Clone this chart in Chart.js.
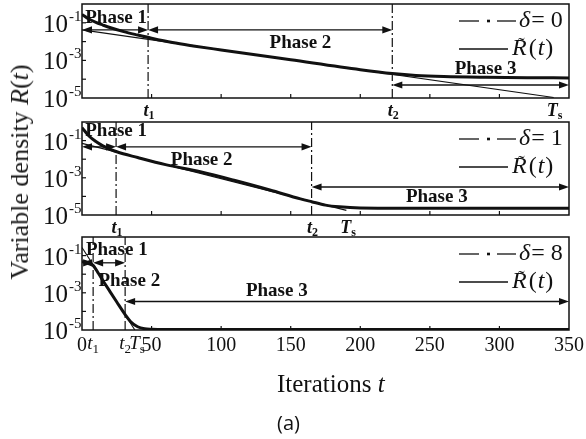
<!DOCTYPE html>
<html>
<head>
<meta charset="utf-8">
<script src="https://cdn.jsdelivr.net/npm/chart.js@4.4.0/dist/chart.umd.min.js"></script>
<style>
body{margin:0;background:#fff;width:586px;height:439px;position:relative;overflow:hidden}
canvas{position:absolute;left:0}
#ytitle{position:absolute;left:20px;top:172px;transform:translate(-50%,-50%) rotate(-90deg);font:26px "Liberation Serif",serif;white-space:nowrap;color:#1a1a1a}
</style>
</head>
<body>
<canvas id="p1" width="586" height="120" style="top:0"></canvas>
<canvas id="p2" width="586" height="120" style="top:118px"></canvas>
<canvas id="p3" width="586" height="206" style="top:233px"></canvas>
<div id="ytitle">Variable density <i>R</i>(<i>t</i>)</div>
<script>
// axis values
const xTicks = [0, 50, 100, 150, 200, 250, 300, 350]
const yTicks = [1e-5, 1e-3, 1e-1]
const yDecades = [1e-4, 1e-3, 1e-2, 1e-1]
const deltas = [0, 1, 8]

// delta = 0
const iterA = [0, 5, 10, 15, 20, 30, 40, 50, 65, 80, 100, 150, 200, 223, 240, 260, 290, 320, 350]
const curveA = [0.28, 0.158, 0.105, 0.076, 0.056, 0.034, 0.0224, 0.0151, 0.0089, 5.9e-3, 3.6e-3, 1.07e-3, 3.2e-4, 2.0e-4, 1.58e-4, 1.38e-4, 1.26e-4, 1.2e-4, 1.17e-4]
const boundIterA = [0, 339]
const boundA = [0.042, 1.07e-5]
const markA = [47.5, 223, 339] // t1, t2, Ts

// delta = 1
const iterB = [0, 5, 10, 15, 20, 25, 40, 60, 85, 110, 135, 157, 165, 175, 185, 200, 230, 350]
const curveB = [0.5, 0.178, 0.089, 0.052, 0.035, 0.025, 0.0123, 5.1e-3, 2.1e-3, 7.1e-4, 2.2e-4, 7.4e-5, 5.2e-5, 3.4e-5, 2.75e-5, 2.4e-5, 2.34e-5, 2.34e-5]
const boundIterB = [0, 190]
const boundB = [0.071, 1.78e-5]
const markB = [24.5, 165, 190.6]

// delta = 8
const iterC = [0, 4, 8, 12, 16, 20, 25, 31, 35, 40, 45, 50, 60, 350]
const curveC = [0.047, 0.042, 0.030, 0.0105, 3.5e-3, 1.2e-3, 3.2e-4, 6.8e-5, 2.8e-5, 1.5e-5, 1.17e-5, 1.1e-5, 1.07e-5, 1.07e-5]
const boundIterC = [0, 38]
const boundC = [0.27, 1e-5]
const markC = [8, 31, 39.5]

const serif = '"Liberation Serif", "Times New Roman", serif'
const ink = '#111'

// arrows [from, to, level] and phase captions [text, t, level] in data units
const notes = [
    {arrows: [[0, 47.5, 0.042], [47.5, 223, 0.042], [223, 350, 4.9e-5]],
     labels: [['Phase 1', 24.5, 0.18], ['Phase 2', 157, 8.5e-3], ['Phase 3', 290, 3.5e-4]]},
    {arrows: [[0, 24.5, 0.046], [24.5, 165, 0.046], [165, 350, 3.2e-4]],
     labels: [['Phase 1', 24.5, 0.33], ['Phase 2', 86, 9.1e-3], ['Phase 3', 255, 9.3e-5]]},
    {arrows: [[0, 8, 0.041], [8, 31, 0.041], [31, 350, 3.4e-4]],
     labels: [['Phase 1', 25, 0.2], ['Phase 2', 34, 4.5e-3], ['Phase 3', 140, 1.3e-3]]}
]

function pts(xs, ys){
    return xs.map((t, i) => ({x: t, y: ys[i]}))
}

function seg(ctx, x1, y1, x2, y2){
    ctx.beginPath(); ctx.moveTo(x1, y1); ctx.lineTo(x2, y2); ctx.stroke()
}

function arrow(ctx, x1, x2, y){
    const h = 10, w = 3.6
    seg(ctx, x1 + 4, y, x2 - 4, y)
    ctx.beginPath(); ctx.moveTo(x1, y); ctx.lineTo(x1 + h, y - w); ctx.lineTo(x1 + h, y + w); ctx.closePath(); ctx.fill()
    ctx.beginPath(); ctx.moveTo(x2, y); ctx.lineTo(x2 - h, y - w); ctx.lineTo(x2 - h, y + w); ctx.closePath(); ctx.fill()
}

function subText(ctx, main, sub, cx, cy, size, weight){
    const f1 = `italic ${weight} ${size}px ${serif}`
    const f2 = `${weight} ${Math.round(size * 0.68)}px ${serif}`
    ctx.font = f1; const w1 = ctx.measureText(main).width
    ctx.font = f2; const w2 = ctx.measureText(sub).width
    const x0 = cx - (w1 + w2) / 2
    const base = cy + size * 0.33
    ctx.textAlign = 'left'; ctx.textBaseline = 'alphabetic'
    ctx.font = f1; ctx.fillText(main, x0, base)
    ctx.font = f2; ctx.fillText(sub, x0 + w1, base + size * 0.18)
}

function makePanel(id, k, iters, curve, bIters, bound, marks, xh, bottomRow){
    const decor = {
        id: 'decor' + k,
        afterDraw(chart){
            const {ctx, chartArea: a, scales: {x, y}} = chart
            ctx.save()
            ctx.strokeStyle = ink; ctx.fillStyle = ink

            // frame and inward ticks
            ctx.lineWidth = 1.5
            ctx.strokeRect(a.left, a.top, a.right - a.left, a.bottom - a.top)
            ctx.lineWidth = 1.2
            xTicks.slice(1, -1).forEach(v => {
                const px = x.getPixelForValue(v)
                seg(ctx, px, a.bottom, px, a.bottom - 4)
            })
            yDecades.forEach(v => {
                const py = y.getPixelForValue(v)
                seg(ctx, a.left, py, a.left + 4, py)
            })

            // y tick labels 10^-n
            ctx.textBaseline = 'alphabetic'
            yTicks.forEach(v => {
                const py = y.getPixelForValue(v)
                ctx.font = `25px ${serif}`
                ctx.textAlign = 'right'
                ctx.fillText('10', a.left - 14, py + 9)
                ctx.font = `15px ${serif}`
                ctx.textAlign = 'left'
                ctx.fillText(String(Math.round(Math.log10(v))), a.left - 13, py - 2)
            })

            // phase arrows and captions
            ctx.lineWidth = 1.3
            notes[k].arrows.forEach(([t1, t2, v]) => {
                arrow(ctx, x.getPixelForValue(t1), x.getPixelForValue(t2), y.getPixelForValue(v))
            })
            ctx.font = `bold 19px ${serif}`
            ctx.textAlign = 'center'; ctx.textBaseline = 'middle'
            notes[k].labels.forEach(([txt, t, v]) => {
                ctx.fillText(txt, x.getPixelForValue(t), y.getPixelForValue(v))
            })

            // legend
            const l1 = a.top + 17, l2 = a.top + 45
            ctx.lineWidth = 1.3
            seg(ctx, 459, l1, 479, l1)
            ctx.fillRect(487, l1 - 1.3, 3, 2.6)
            seg(ctx, 497, l1, 516, l1)
            seg(ctx, 459, l2, 508, l2)
            ctx.textAlign = 'left'; ctx.textBaseline = 'middle'
            ctx.font = `italic 24px ${serif}`
            ctx.fillText('δ', 519, l1)
            let w = ctx.measureText('δ').width
            ctx.font = `24px ${serif}`
            ctx.fillText('= ' + deltas[k], 519 + w + 1, l1)
            let cx = 512
            ctx.font = `italic 24px ${serif}`
            ctx.fillText('R', cx, l2)
            const rw = ctx.measureText('R').width
            ctx.font = `20px ${serif}`
            ctx.textAlign = 'center'; ctx.textBaseline = 'alphabetic'
            ctx.fillText('˜', cx + rw / 2 + 2, l2 + 3)
            ctx.textAlign = 'left'; ctx.textBaseline = 'middle'
            cx += rw + 2
            ctx.font = `24px ${serif}`
            ctx.fillText('(', cx, l2); cx += ctx.measureText('(').width + 1
            ctx.font = `italic 24px ${serif}`
            ctx.fillText('t', cx, l2); cx += ctx.measureText('t').width + 1
            ctx.font = `24px ${serif}`
            ctx.fillText(')', cx, l2)

            // t1, t2, Ts marks
            const names = [['t', '1'], ['t', '2'], ['T', 's']]
            if (!bottomRow){
                marks.forEach((t, i) => {
                    subText(ctx, names[i][0], names[i][1], x.getPixelForValue(t) + 1, a.bottom + 12, 18, 'bold')
                })
            } else {
                marks.forEach((t, i) => {
                    subText(ctx, names[i][0], names[i][1], x.getPixelForValue(t), a.bottom + 13, 19, 'normal')
                })
                ctx.font = `20px ${serif}`
                ctx.textAlign = 'center'; ctx.textBaseline = 'middle'
                xTicks.forEach(v => ctx.fillText(String(v), x.getPixelForValue(v), a.bottom + 16))
                ctx.textAlign = 'left'
                ctx.font = `25px ${serif}`
                ctx.fillText('Iterations ', 277, a.bottom + 55)
                const iw = ctx.measureText('Iterations ').width
                ctx.font = `italic 25px ${serif}`
                ctx.fillText('t', 277 + iw, a.bottom + 55)
                ctx.font = '20px "Open Sans", sans-serif'
                ctx.fillText('(a)', 277, a.bottom + 94)
            }
            ctx.restore()
        }
    }

    const datasets = [
        {data: pts(iters, curve), borderColor: ink, borderWidth: 3, cubicInterpolationMode: 'monotone'},
        {data: pts(bIters, bound), borderColor: ink, borderWidth: 1.1}
    ]
    marks.slice(0, 2).forEach(t => {
        datasets.push({data: [{x: t, y: 1e-5}, {x: t, y: 1}], borderColor: ink, borderWidth: 1.2, borderDash: [9, 3, 2, 3]})
    })

    return new Chart(document.getElementById(id), {
        type: 'line',
        data: {datasets},
        options: {
            responsive: false,
            animation: false,
            devicePixelRatio: 1,
            layout: {padding: {top: 4, right: 17, left: 0, bottom: 0}},
            elements: {point: {radius: 0}},
            plugins: {legend: {display: false}, tooltip: {enabled: false}},
            scales: {
                x: {
                    type: 'linear', min: 0, max: 350,
                    ticks: {display: false}, grid: {display: false}, border: {display: false},
                    afterFit(s){ s.height = xh }
                },
                y: {
                    type: 'logarithmic', min: 1e-5, max: 1,
                    ticks: {display: false}, grid: {display: false}, border: {display: false},
                    afterFit(s){ s.width = 82 }
                }
            }
        },
        plugins: [decor]
    })
}

makePanel('p1', 0, iterA, curveA, boundIterA, boundA, markA, 22, false)
makePanel('p2', 1, iterB, curveB, boundIterB, boundB, markB, 23, false)
makePanel('p3', 2, iterC, curveC, boundIterC, boundC, markC, 109, true)
</script>
</body>
</html>
